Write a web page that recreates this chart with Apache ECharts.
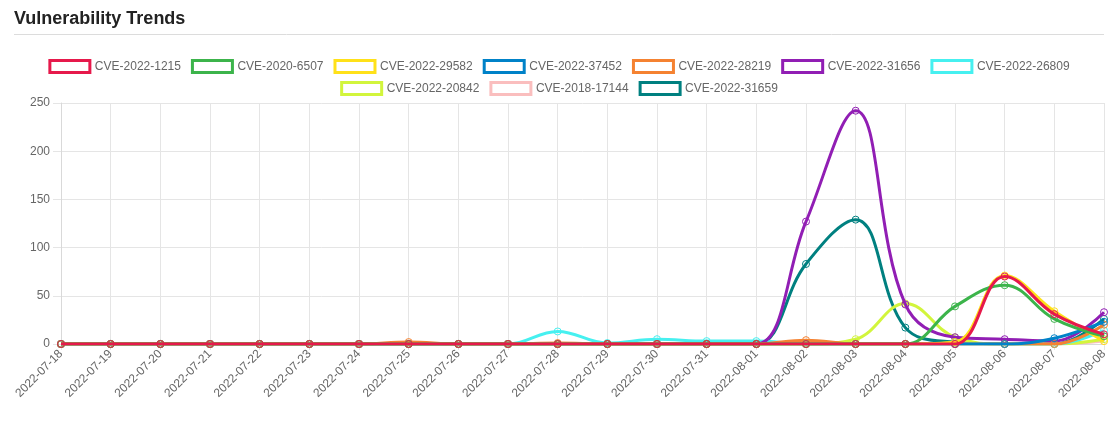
<!DOCTYPE html>
<html>
<head>
<meta charset="utf-8">
<script src="https://cdn.jsdelivr.net/npm/echarts@6/dist/echarts.min.js"></script>
<style>
html,body{margin:0;padding:0;background:#fff;}
#chart{width:1118px;height:428px;}
</style>
</head>
<body>
<div id="chart"></div>
<script>
const categories = ["2022-07-18","2022-07-19","2022-07-20","2022-07-21","2022-07-22","2022-07-23","2022-07-24","2022-07-25","2022-07-26","2022-07-27","2022-07-28","2022-07-29","2022-07-30","2022-07-31","2022-08-01","2022-08-02","2022-08-03","2022-08-04","2022-08-05","2022-08-06","2022-08-07","2022-08-08"];

const seriesNames = ["CVE-2022-1215","CVE-2020-6507","CVE-2022-29582","CVE-2022-37452","CVE-2022-28219","CVE-2022-31656","CVE-2022-26809","CVE-2022-20842","CVE-2018-17144","CVE-2022-31659"];
const seriesColors = ["#e6194b","#3cb44b","#ffe119","#0082c8","#f58231","#911eb4","#46f0f0","#d2f53c","#fabebe","#008080"];

const cve_2022_1215  = [0,0,0,0,0,0,0,0,0,0,0,0,0,0,0,0,0,0,0,70,31,10];
const cve_2020_6507  = [0,0,0,0,0,0,0,0,0,0,0,0,0,0,0,0,0,0,39,61,26,8];
const cve_2022_29582 = [0,0,0,0,0,0,0,0,0,0,0,0,0,0,0,0,0,0,2,71,34,3];
const cve_2022_37452 = [0,0,0,0,0,0,0,0,0,0,0,0,0,0,0,0,0,0,0,0,6,23];
const cve_2022_28219 = [0,0,0,0,0,0,0,2,0,0,1,0,0,0,0,4,0,0,0,0,0,20];
const cve_2022_31656 = [0,0,0,0,0,0,0,0,0,0,0,0,0,0,0,127,242,41,7,5,3,33];
const cve_2022_26809 = [0,0,0,0,0,0,0,0,0,0,13,1,5,3,3,0,0,0,0,0,0,14];
const cve_2022_20842 = [0,0,0,0,0,0,0,0,0,0,0,0,0,0,0,0,5,42,7,0,0,5];
const cve_2018_17144 = [0,0,0,0,0,0,0,0,0,0,0,0,0,0,0,0,0,0,0,0,0,3];
const cve_2022_31659 = [0,0,0,0,0,0,0,0,0,0,0,0,0,0,0,83,129,17,2,0,0,26];

const seriesValues = [cve_2022_1215,cve_2020_6507,cve_2022_29582,cve_2022_37452,cve_2022_28219,cve_2022_31656,cve_2022_26809,cve_2022_20842,cve_2018_17144,cve_2022_31659];

const yTicks = {min:0, max:250, interval:50};

const FONT = '"Liberation Sans", Arial, Helvetica, sans-serif';
const n = seriesNames.length;

const legendData = seriesNames.map((name,i)=>({
  name: name,
  itemStyle: {color:'#ffffff', borderColor: seriesColors[i], borderWidth: 3}
}));

const series = seriesNames.map((name,i)=>({
  name: name,
  type: 'line',
  data: seriesValues[i],
  smooth: 0.4,
  symbol: 'circle',
  symbolSize: 7,
  showSymbol: true,
  z: 2 + (n - i),
  lineStyle: {color: seriesColors[i], width: 3},
  itemStyle: {color: 'rgba(255,255,255,0)', borderColor: seriesColors[i], borderWidth: 1},
  emphasis: {disabled: true},
  animation: false
}));

const legendCommon = {
  icon: 'rect',
  itemWidth: 40,
  itemHeight: 12,
  itemGap: 10,
  padding: 0,
  left: 'center',
  selectedMode: false,
  textStyle: {color:'#666', fontSize: 12, fontFamily: FONT}
};

const chart = echarts.init(document.getElementById('chart'), null, {renderer:'canvas'});
chart.setOption({
  animation: false,
  title: {
    text: 'Vulnerability Trends',
    left: 9,
    top: 5,
    textStyle: {color:'#222', fontSize: 18, fontWeight: 'bold', fontFamily: FONT}
  },
  graphic: [{
    type: 'line',
    shape: {x1: 14, y1: 34.5, x2: 1104, y2: 34.5},
    style: {stroke: '#dcdcdc', lineWidth: 1}
  }],
  legend: [
    Object.assign({}, legendCommon, {top: 59, data: legendData.slice(0,7)}),
    Object.assign({}, legendCommon, {top: 81, data: legendData.slice(7)})
  ],
  grid: {left: 61, right: 14, top: 103, bottom: 84, containLabel: false},
  xAxis: {
    type: 'category',
    data: categories,
    boundaryGap: false,
    axisLine: {show: true, lineStyle: {color: '#d9d9d9', width: 1}},
    axisTick: {show: true, length: 6, alignWithLabel: true, lineStyle: {color: '#e5e5e5'}},
    axisLabel: {rotate: 45, margin: 8, color: '#666', fontSize: 12, fontFamily: FONT, interval: 0},
    splitLine: {show: true, lineStyle: {color: '#e5e5e5', width: 1}}
  },
  yAxis: {
    type: 'value',
    min: yTicks.min,
    max: yTicks.max,
    interval: yTicks.interval,
    axisLine: {show: true, lineStyle: {color: '#d9d9d9', width: 1}},
    axisTick: {show: true, length: 8, lineStyle: {color: '#e5e5e5'}},
    axisLabel: {margin: 11, color: '#666', fontSize: 12, fontFamily: FONT},
    splitLine: {show: true, lineStyle: {color: '#e5e5e5', width: 1}}
  },
  series: series
});
</script>
</body>
</html>
